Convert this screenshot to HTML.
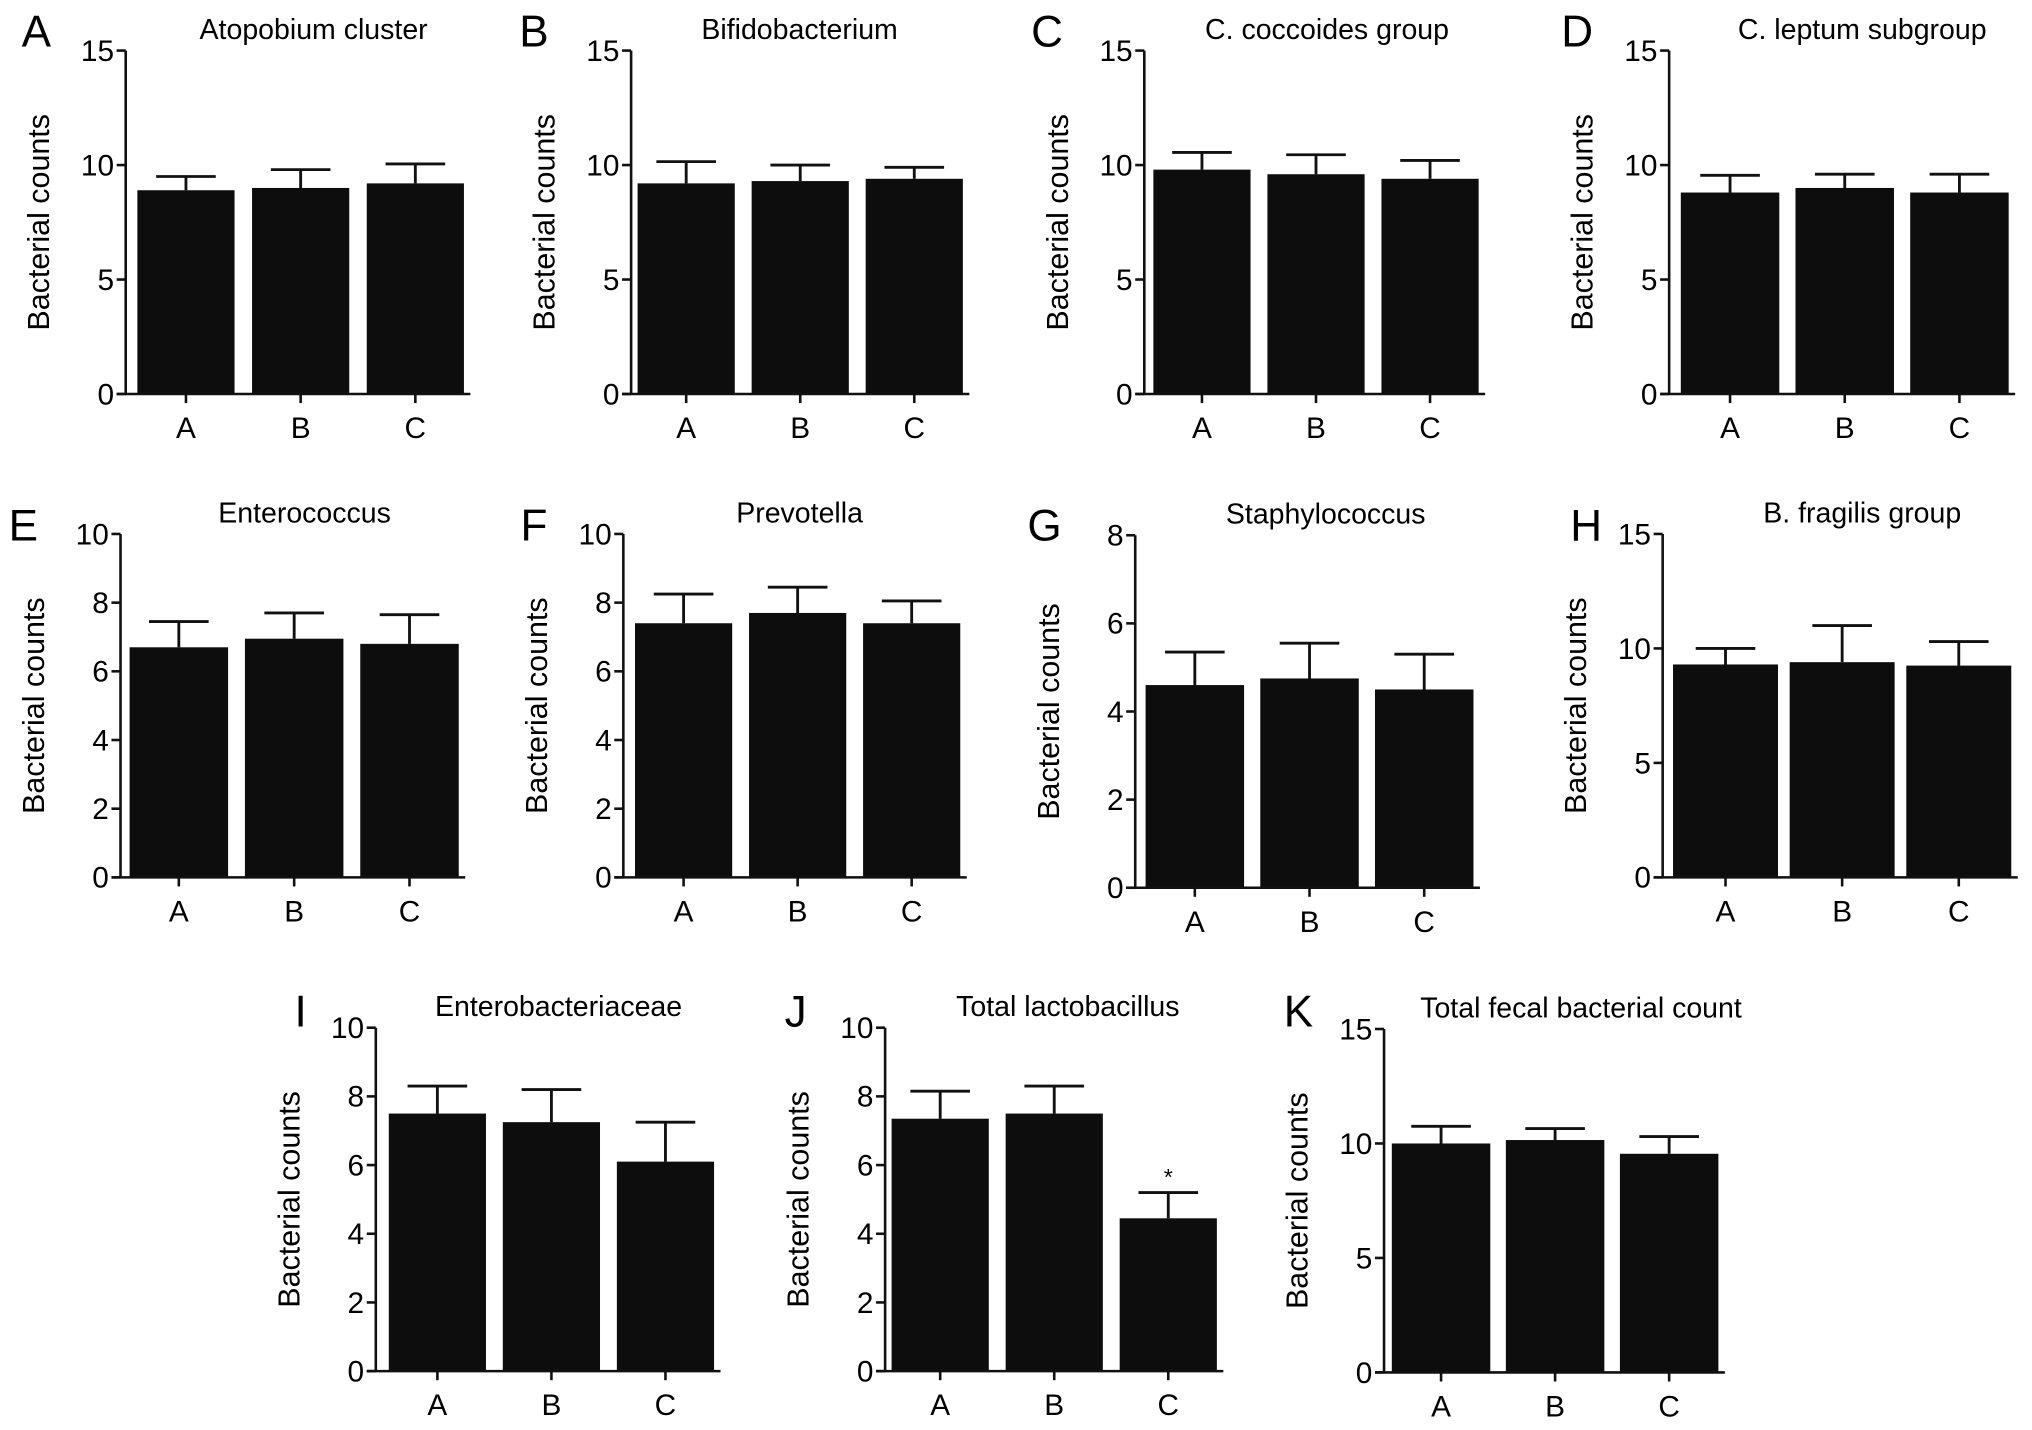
<!DOCTYPE html>
<html><head><meta charset="utf-8"><style>
html,body{margin:0;padding:0;background:#fff;}
svg{display:block;font-family:"Liberation Sans",Arial,sans-serif;}
</style></head><body>
<svg id="fig" width="2032" height="1430" viewBox="0 0 1568 1103.4" xmlns="http://www.w3.org/2000/svg"></svg>
<script>
const panelLetters = ["A","B","C","D","E","F","G","H","I","J","K"];
const panelTitles = ["Atopobium cluster","Bifidobacterium","C. coccoides group","C. leptum subgroup","Enterococcus","Prevotella","Staphylococcus","B. fragilis group","Enterobacteriaceae","Total lactobacillus","Total fecal bacterial count"];
const categories = ["A","B","C"];
const meanValues = [
 [8.9,9.0,9.2],[9.2,9.3,9.4],[9.8,9.6,9.4],[8.8,9.0,8.8],
 [6.7,6.95,6.8],[7.4,7.7,7.4],[4.6,4.75,4.5],[9.3,9.4,9.25],
 [7.5,7.25,6.1],[7.35,7.5,4.45],[10.0,10.15,9.55]
];
const errorTops = [
 [9.5,9.8,10.05],[10.15,10.0,9.9],[10.55,10.45,10.2],[9.55,9.6,9.6],
 [7.45,7.7,7.65],[8.25,8.45,8.05],[5.35,5.55,5.3],[10.0,11.0,10.3],
 [8.3,8.2,7.25],[8.15,8.3,5.2],[10.75,10.65,10.3]
];
const yMaxes = [15,15,15,15,10,10,8,15,10,10,15];
const tickLists = [
 [0,5,10,15],[0,5,10,15],[0,5,10,15],[0,5,10,15],
 [0,2,4,6,8,10],[0,2,4,6,8,10],[0,2,4,6,8],[0,5,10,15],
 [0,2,4,6,8,10],[0,2,4,6,8,10],[0,5,10,15]
];
const significance = [[],[],[],[],[],[],[],[],[],["","","*"],[]];

const layout = [
 {ax:97,top:39,zero:304,b0:106,bw:75,gap:88.5,letterX:28,letterY:24,tx:242},
 {ax:487,top:39,zero:304,b0:492,bw:75,gap:88,letterX:412,letterY:24,tx:617},
 {ax:883,top:39,zero:304,b0:890,bw:75,gap:88,letterX:808,letterY:24,tx:1024},
 {ax:1288,top:39,zero:304,b0:1297,bw:76,gap:88.5,letterX:1217,letterY:24,tx:1437},
 {ax:93,top:412,zero:677,b0:100,bw:76,gap:89,letterX:18,letterY:405,tx:235},
 {ax:481,top:412,zero:677,b0:490,bw:75,gap:88,letterX:412,letterY:405,tx:617},
 {ax:876,top:413,zero:685,b0:884,bw:76,gap:88.5,letterX:806,letterY:405,tx:1023},
 {ax:1283,top:412,zero:677,b0:1291,bw:81,gap:90,letterX:1224,letterY:405,tx:1437},
 {ax:290,top:793,zero:1058,b0:300,bw:75,gap:88,letterX:232,letterY:780,tx:431},
 {ax:683,top:793,zero:1058,b0:688,bw:75,gap:88,letterX:614,letterY:780,tx:824},
 {ax:1068,top:794,zero:1059,b0:1074,bw:76,gap:88,letterX:1002,letterY:780,tx:1220}
];
const NS="http://www.w3.org/2000/svg";
const svg=document.getElementById('fig');
function mk(tag,attrs,parent,text){const e=document.createElementNS(NS,tag);for(const k in attrs)e.setAttribute(k,attrs[k]);if(text!==undefined)e.textContent=text;(parent||svg).appendChild(e);return e;}

panelLetters.forEach((L,i)=>{
  const p=layout[i];
  const g=mk('g',{});
  
  
  const y=v=>p.zero-(v/yMaxes[i])*(p.zero-p.top);
  const xEnd=p.b0+2*p.gap+p.bw+5;
  const t1=mk('text',{x:p.letterX,y:p.letterY+12,'font-size':34,'text-anchor':'middle'},g,L);
  
  
  const tt=mk('text',{x:p.tx,y:p.top-9,'font-size':22,'text-anchor':'middle'},g,panelTitles[i]);
  
  
  const yl=mk('text',{x:0,y:0,'font-size':23.5,'text-anchor':'middle',transform:`translate(${p.ax-59},${(p.top+p.zero)/2}) rotate(-90)`},g,'Bacterial counts');
  
  
  categories.forEach((c,j)=>{
    const bx=p.b0+j*p.gap, mx=bx+p.bw/2;
    const r=mk('rect',{x:bx,y:y(meanValues[i][j]),width:p.bw,height:p.zero-y(meanValues[i][j]),fill:'#0d0d0d'},g);
    
    
    const e=mk('path',{d:`M${mx},${y(meanValues[i][j])}V${y(errorTops[i][j])}M${mx-23},${y(errorTops[i][j])}H${mx+23}`,stroke:'#111','stroke-width':2.2,fill:'none'},g);
    
    
    const s=significance[i][j];
    if(s){const st=mk('text',{x:mx,y:y(errorTops[i][j])-6,'font-size':18,'text-anchor':'middle'},g,s);
      
      }
    mk('line',{x1:mx,x2:mx,y1:p.zero,y2:p.zero+7,stroke:'#111','stroke-width':2},g);
    const xl=mk('text',{x:mx,y:p.zero+34,'font-size':23,'text-anchor':'middle'},g,c);
    
    
  });
  const ya=mk('line',{x1:p.ax,x2:p.ax,y1:p.top,y2:p.zero,stroke:'#111','stroke-width':2},g);
  
  
  const xa=mk('line',{x1:p.ax-7,x2:xEnd,y1:p.zero,y2:p.zero,stroke:'#111','stroke-width':2},g);
  
  
  tickLists[i].forEach(v=>{
    mk('line',{x1:p.ax-7,x2:p.ax,y1:y(v),y2:y(v),stroke:'#111','stroke-width':2},g);
    const tl=mk('text',{x:p.ax-9,y:y(v)+8,'font-size':23,'text-anchor':'end'},g,String(v));
    
    
  });
});
</script>
</body></html>
